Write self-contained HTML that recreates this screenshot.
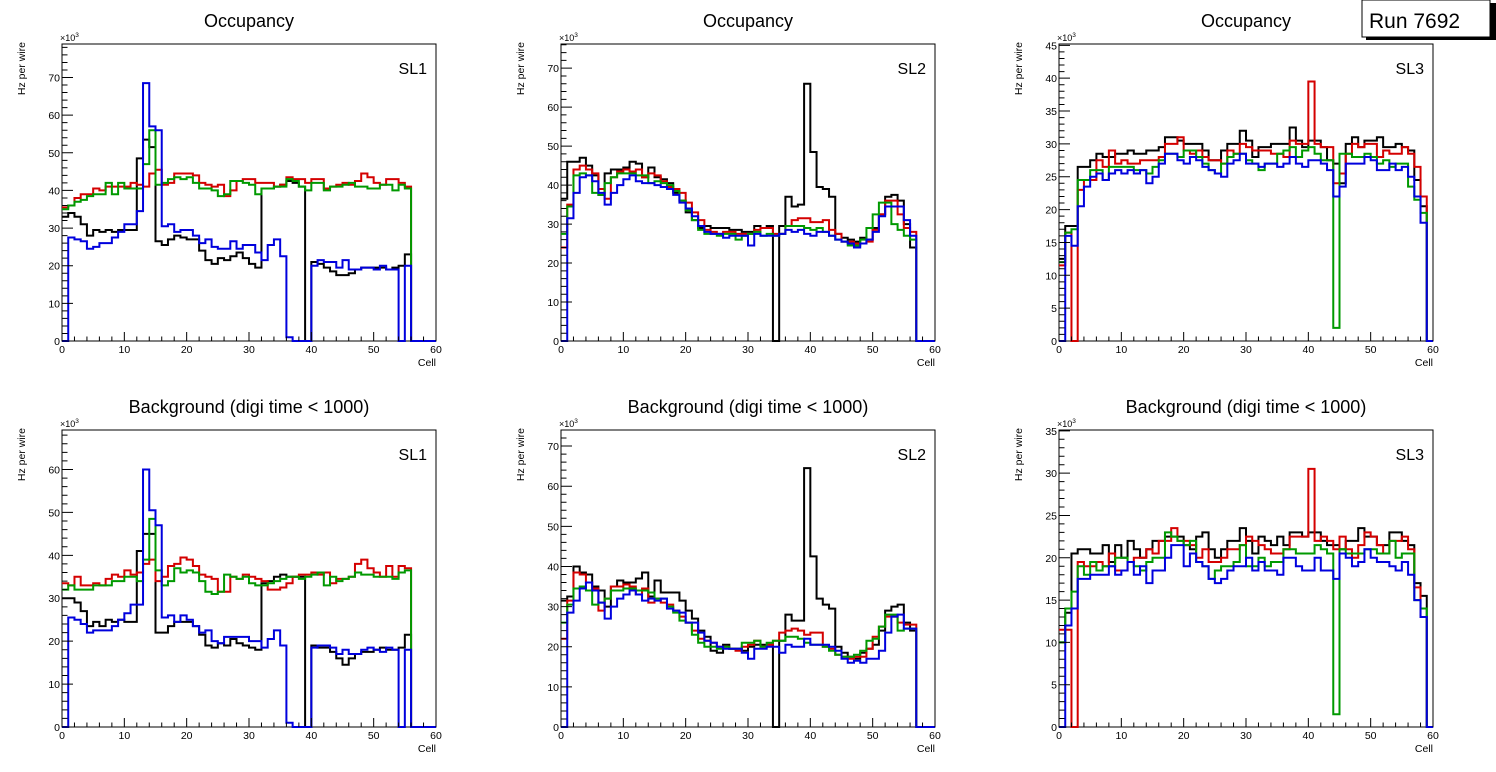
<!DOCTYPE html>
<html><head><meta charset="utf-8">
<style>
html,body{margin:0;padding:0;background:#fff;}
svg{display:block;font-family:"Liberation Sans",Arial,sans-serif;}
</style></head>
<body>
<svg id="c" width="1496" height="772" viewBox="0 0 1496 772" xmlns="http://www.w3.org/2000/svg">
<rect x="0" y="0" width="1496" height="772" fill="#fff"/>
<g>
<rect x="1366" y="3" width="130" height="37" fill="#000"/>
<rect x="1362" y="0" width="128" height="37" fill="#fff" stroke="#000" stroke-width="1"/>
<text x="1369" y="28" font-size="21">Run 7692</text>
</g>
</svg>
<script>
// ---- data (x10^3 Hz per wire), 60 cells each ----
const cells = [0,60];
// Panel 1: Occupancy SL1
const occSL1_black = [33,34,33,31,28,29.5,29,29.5,29,29.5, 29.5,29.5,48.5,53.5,51.5,26.5,25.5,27,28,27.5, 27,27,24,21.5,20.5,22,21.5,22.5,23.5,22, 20.5,19.5,40.5,40.5,41,41.5,42.5,42,41,0, 21,20.5,19.5,18.5,17.5,17.5,18,19,19.5,19.5, 19.5,19.5,19,19.5,20,23,0,0,0,0];
const occSL1_red = [35.5,36,38,39,39,40.5,40,41,41,41, 41,42,41.5,41,44.5,45.5,41.5,42,44.5,44.5, 44.5,44,42,41.5,41,41.5,38.5,40,42.5,43, 43,42,42,42,41,41.5,43.5,43,43,42, 43,43,40.5,41,41.5,42,41.5,42.5,44.5,43.5, 42,41.5,43,43,42,41,0,0,0,0];
const occSL1_green = [35,36,37,37.5,38.5,39,39,42,39,42, 40.5,40.5,40.5,47,56,41.5,42,43,43.5,43, 43.5,42,40.5,40.5,40,38.5,39,42.5,42.5,42, 41.5,39,40.5,40.5,41,41,43,42.5,41,40, 42,42,40,41,41,41.5,42,41,41,40.5, 40.5,41.5,41.5,40,41.5,40.5,0,0,0,0];
const occSL1_blue = [0,27.5,27,26.5,24.5,25,26,26,27.5,29, 31,31,34.5,68.5,57,56,30.5,31,29,29.5, 29.5,28,26,27,25,24.5,24.5,26.5,24.5,25.5, 25.5,23.5,21.5,25.5,27,22.5,1,0,0,0, 20,21.5,21,21,19.5,21.5,19,19,19.5,19.5, 19,20,19,19,0,20,0,0,0,0];
// Panel 2: Occupancy SL2
const occSL2_black = [36.5,46,46,47,45,42.5,37.5,43,44,44, 44.5,46,45.5,42,44.5,42,41.5,40.5,38,36, 33,31,29,29.5,29,29,29,28.5,28.5,28, 28,29.5,29,29.5,0,29.5,37,34.5,35,66, 48.5,39.5,39,37,27.5,26.5,26,25.5,26.5,26, 29,32.5,37,37.5,36,30,24,0,0,0];
const occSL2_red = [24,35,44,45,44,43,39,36.5,42,43.5, 44,43.5,44,42,43,42.5,41,39.5,39,38, 35.5,33,31,28.5,28,27.5,28,28,27.5,27.5, 27.5,28.5,29,29,27.5,27.5,29.5,31,31.5,31.5, 30.5,30.5,31,28.5,27.5,25.5,25.5,25,25,25.5, 28.5,32.5,36,36,32.5,29,28,0,0,0];
const occSL2_green = [27.5,34.5,42.5,43,42.5,38,37.5,40.5,42,43, 43,43,42.5,42.5,40.5,41,40.5,40,38.5,36, 33.5,31,28.5,27.5,27.5,27,27.5,27.5,26,27, 27.5,28,27,27.5,27,27.5,29.5,29.5,29.5,29, 28.5,29,28,27,26,25.5,24.5,24.5,26,29, 32.5,35.5,35.5,30,28.5,27,26,0,0,0];
const occSL2_blue = [0,31.5,38,42,42.5,41,38,35,38,40, 41.5,42.5,41,40.5,40.5,40,39.5,39,37.5,35.5, 34,32,29.5,28,27.5,27.5,26.5,27,27,27, 24.5,27.5,27,27,27,27.5,28.5,28,28.5,27.5, 27,28,28,27,26,25.5,25,24,25,26, 28,32,34.5,34.5,34.5,31,27,0,0,0];
// Panel 3: Occupancy SL3
const occSL3_black = [12.5,17.5,17.5,26.5,26.5,27.5,28.5,28,28,28.5, 28.5,29,28.5,28.5,29,29,29.5,31,31,30.5, 30,30,30,29,27.5,27.5,29,30,30,32, 30.5,28,29.5,29.5,30,30,30,32.5,30.5,29.5, 30.5,30.5,29.5,27.5,27,24,30,31,29.5,30.5, 30.5,31,29.5,29.5,30,29.5,29,24.5,20.5,0];
const occSL3_red = [11.5,16.5,0,23,24.5,24.5,27.5,26.5,29,27, 27.5,27,27,27.5,27.5,27.5,28,30,30,31, 29,28.5,29,28,27.5,27.5,27,29,28.5,30, 29.5,29,29,29,28.5,28.5,28,30.5,30,30, 39.5,30,29.5,29.5,24,25.5,28.5,30,29.5,30, 30,28,29,28.5,28.5,29.5,28.5,26.5,22,0];
const occSL3_green = [12,16.5,17,24.5,24.5,26,26,24.5,26.5,26.5, 26.5,26.5,26,26,25.5,26.5,27.5,28.5,28.5,28, 29,29,28,27,26,25.5,27,28,28.5,28.5, 27.5,27,26,27,27,28.5,29,29.5,28,29, 29.5,28.5,27.5,27.5,2,28.5,28.5,28,28,28.5, 28,27,27.5,26.5,27,27,23.5,21.5,19.5,0];
const occSL3_blue = [0,16,14.5,20.5,23.5,25,25.5,24.5,25.5,26, 25.5,26,25.5,26,24,25,27,28.5,28.5,27.5, 27,28,27.5,26.5,26,25.5,25,27,27.5,28.5, 27,27,26.5,27,27,26.5,27,28,27,26.5, 27.5,27.5,27,26,22,23.5,27,27,27,28, 27.5,26,26,27,26,26.5,25,22,18,0];
// Panel 4: Background SL1
const bkgSL1_black = [30,30,29,27,23.5,24.5,23.5,25,24.5,25, 24.5,24.5,41,45,45,22,22,23.5,24.5,24.5, 24.5,23.5,21.5,19,18.5,19.5,19,20.5,19.5,19, 18.5,18,33.5,34,35,35.5,35,35,35,0, 19,18.5,18.5,17.5,16,14.5,16,17,17.5,17.5, 18,18.5,18,18,18.5,21.5,0,0,0,0];
const bkgSL1_red = [33.5,33,35,33,33,33.5,33,34.5,35.5,35, 36.5,35.5,36,38,39,34,35,37.5,38,39.5, 39,37.5,35.5,35,34.5,31.5,31.5,35,34.5,35.5, 35,34.5,34,32,32,32.5,33.5,35,35.5,35.5, 36,35.5,36,33.5,34.5,34.5,35,38,39,37, 36,35,37.5,35,37.5,37,0,0,0,0];
const bkgSL1_green = [32,33,32,32,32,33,33,33,34,34, 35,35,34,39,48.5,36.5,33,34,37,36, 36.5,36,34,31.5,31,31.5,35.5,35,34.5,35, 33.5,33,33,33.5,34,34.5,35,35,34.5,35, 35.5,36,33,35,34,34.5,35,36,35.5,35.5, 35,35,35,34.5,36,36.5,0,0,0,0];
const bkgSL1_blue = [0,25.5,25,24,22,22.5,22.5,22.5,23.5,25, 26.5,28.5,28.5,60,50.5,47,25.5,26,24.5,26, 25,23.5,22,22.5,20,19.5,21,21,21,21, 20,20,18.5,20.5,22.5,19,1,0,0,0, 18.5,19,19,18.5,17,18,17,17,18,18.5, 18,17.5,18.5,18,0,18,0,0,0,0];
// Panel 5: Background SL2
const bkgSL2_black = [31.5,32.5,40,38.5,38,35,34,30,35,36.5, 36,36,37,38.5,32.5,36.5,33.5,33.5,33.5,31.5, 29,27,24,22.5,19,18.5,20.5,19.5,19.5,19, 20,20.5,20.5,20.5,0,21.5,28,26.5,26.5,64.5, 42.5,32,30.5,29.5,20,18.5,17.5,17,18.5,19.5, 20.5,24,29,30,30.5,26,24,0,0,0];
const bkgSL2_red = [22,31.5,38.5,38,36,34.5,29,32,35,35, 35.5,35,33,34.5,31,32,31,30.5,29,27.5, 26,24,22,21.5,21,20,20,19.5,19,20, 20.5,21.5,20,20.5,21.5,23.5,24,24.5,24,23, 23.5,23.5,20,19.5,18,17.5,17,17.5,17.5,19.5, 22.5,25,27.5,27.5,26,25.5,25.5,0,0,0];
const bkgSL2_green = [26,30.5,34.5,35,34,30.5,31,32,34,34, 34.5,34.5,34,34,33.5,32,32,30,28.5,26.5, 26,23,21,20,20,19.5,20,19.5,19.5,21, 21,21.5,20,21,21.5,21.5,22.5,22.5,22,21, 20.5,20.5,20,19,18,17.5,17.5,18,19,21.5, 22,25,28,28,24,24.5,24.5,0,0,0];
const bkgSL2_blue = [0,28.5,31.5,34.5,36,34,31,27,30,32, 33,34,33,31.5,32,31.5,32,29.5,29,28.5, 26,26,23.5,21.5,21,20,19.5,19.5,19.5,18.5, 17,19.5,19.5,20,20,18.5,20.5,20,20,22, 20.5,20.5,20.5,20,19,17,16,16.5,16,17, 17,19,23.5,27.5,28,24.5,24.5,0,0,0];
// Panel 6: Background SL3
const bkgSL3_black = [10,13.5,20.5,21,21,20.5,20.5,21.5,19.5,21.5, 20,22,21,20,21,22,22,22.5,22.5,22.5, 21.5,21,22.5,23,21,20,21,22,22,23.5, 22,20.5,22.5,22,21.5,22.5,21.5,23,23,22.5, 23,23,22,21.5,21.5,21,22,22,23.5,22.5, 22.5,21.5,21.5,23,23,22,21.5,17,15.5,0];
const bkgSL3_red = [11.5,11.5,0,19.5,19,19,19.5,19,20.5,18.5, 18.5,19.5,20,20,21,20.5,22,22,23.5,22, 22,21.5,20,21,19.5,19.5,20,21,21,21.5, 22.5,22,21.5,21,20.5,20.5,21,22.5,22.5,22.5, 30.5,22,22.5,22,21,22.5,21,20,21.5,23, 22.5,21.5,20.5,22,22,22.5,21,16.5,13,0];
const bkgSL3_green = [10,14,16,19,18,19.5,18.5,19,19,20, 20,19.5,19,18.5,19.5,20,20,23,22.5,22, 21.5,22,19.5,19,17.5,18.5,19,19,19.5,21.5, 19,19,20,19,19.5,19.5,21,21,20.5,20.5, 20.5,21.5,21,20.5,1.5,21,20.5,20.5,20.5,21, 21,20.5,20.5,22,20,20.5,20.5,15,14,0];
const bkgSL3_blue = [0,12,14,17.5,17.5,18,18,18,19,18, 18.5,19.5,18,19,17,18.5,18.5,20,21.5,21.5, 19,20.5,19.5,19,17.5,17,17.5,18.5,19,19, 20,18.5,19.5,18.5,18.5,18,20,20,19,18.5, 18.5,20,18.5,18.5,17.5,20.5,20,19,19.5,21, 20,19.5,19.5,19,18.5,19.5,18,15,13,0];
const titles = ["Occupancy","Occupancy","Occupancy","Background (digi time < 1000)","Background (digi time < 1000)","Background (digi time < 1000)"];
const slLabels = ["SL1","SL2","SL3","SL1","SL2","SL3"];
const yMax = [78.9,76.2,45.2,69.2,74,35.1];
const yMajor = [10,10,5,10,10,5];
const yMinor = [2,2,1,2,2,1];
const xTickLabels = [0,10,20,30,40,50,60];

const NS="http://www.w3.org/2000/svg";
const svg=document.getElementById('c');
function mk(tag,attrs,parent){const e=document.createElementNS(NS,tag);for(const k in attrs)e.setAttribute(k,attrs[k]);(parent||svg).appendChild(e);return e;}

const panels=[
 {x0:62,y0:44,s:[occSL1_black,occSL1_red,occSL1_green,occSL1_blue]},
 {x0:561,y0:44,s:[occSL2_black,occSL2_red,occSL2_green,occSL2_blue]},
 {x0:1059,y0:44,s:[occSL3_black,occSL3_red,occSL3_green,occSL3_blue]},
 {x0:62,y0:430,s:[bkgSL1_black,bkgSL1_red,bkgSL1_green,bkgSL1_blue]},
 {x0:561,y0:430,s:[bkgSL2_black,bkgSL2_red,bkgSL2_green,bkgSL2_blue]},
 {x0:1059,y0:430,s:[bkgSL3_black,bkgSL3_red,bkgSL3_green,bkgSL3_blue]}
];
const colors=["#000000","#d40000","#009900","#0000dd"];
const seriesNames=["black","red","green","blue"];
const W=374,H=297;

panels.forEach((p,i)=>{
 const g=mk('g',{});
 
 
 const xs=v=>p.x0+(v-cells[0])/(cells[1]-cells[0])*W;
 const ys=v=>p.y0+H-v/yMax[i]*H;
 const cx=p.x0+W/2;
 const t=mk('text',{x:cx,y:p.y0-17,'font-size':18,'text-anchor':'middle'},g);t.textContent=titles[i];
 
 
 // frame
 const fr=mk('rect',{x:p.x0,y:p.y0,width:W,height:H,fill:'none',stroke:'#000','stroke-width':1},g);
 
 
 // series
 p.s.forEach((arr,k)=>{
  let d='M'+xs(0)+','+ys(arr[0]);
  for(let b=0;b<arr.length;b++){
   d+=' L'+xs(b)+','+ys(arr[b])+' L'+xs(b+1)+','+ys(arr[b]);
  }
  const path=mk('path',{d:d,fill:'none',stroke:colors[k],'stroke-width':2,'stroke-linejoin':'miter'},g);
  
  
 });
 // x ticks
 let td='';
 for(let v=cells[0];v<=cells[1];v+=2){const X=xs(v);const L=(v%10===0)?9:4.5;td+='M'+X+','+(p.y0+H)+' v'+(-L)+' ';}
 for(let v=0;v<=yMax[i]+1e-9;v+=yMinor[i]){const Y=ys(v);const L=(Math.abs(v/yMajor[i]-Math.round(v/yMajor[i]))<1e-6)?11:5.5;td+='M'+p.x0+','+Y+' h'+L+' ';}
 const tk=mk('path',{d:td,stroke:'#000','stroke-width':1,fill:'none'},g);
 
 
 xTickLabels.forEach(v=>{
  const tl=mk('text',{x:xs(v),y:p.y0+H+12,'font-size':10.5,'text-anchor':'middle'},g);tl.textContent=v;
  
  
 });
 for(let v=0;v<=yMax[i]+1e-9;v+=yMajor[i]){
  const tl=mk('text',{x:p.x0-2,y:ys(v)+4,'font-size':10.5,'text-anchor':'end'},g);tl.textContent=v;
  
  
 }
 const xl=mk('text',{x:p.x0+W,y:p.y0+H+25,'font-size':10.5,'text-anchor':'end'},g);xl.textContent='Cell';
 
 
 const yl=mk('text',{x:0,y:0,'font-size':10.5,'text-anchor':'end',transform:'translate('+(p.x0-37)+','+(p.y0-2)+') rotate(-90)'},g);yl.textContent='Hz per wire';
 
 
 const ex=mk('text',{x:p.x0-2,y:p.y0-3,'font-size':9},g);
 
 
 ex.textContent='×10';
 const sup=mk('tspan',{dy:-4,'font-size':6.5},ex);sup.textContent='3';
 const sl=mk('text',{x:p.x0+W-9,y:p.y0+30,'font-size':16,'text-anchor':'end'},g);sl.textContent=slLabels[i];
 
 
});
</script>
</body></html>
